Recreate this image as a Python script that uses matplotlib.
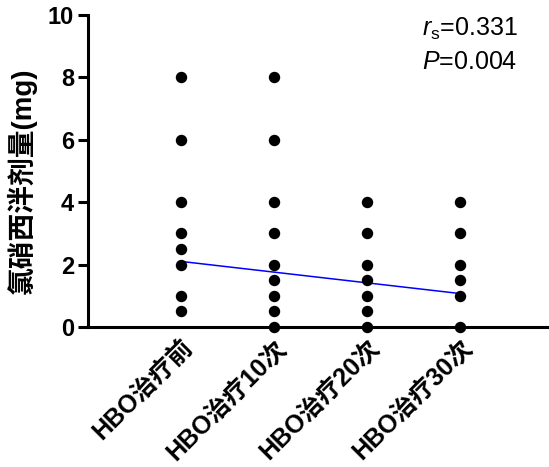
import numpy as np
import matplotlib
matplotlib.use('Agg')
import matplotlib.pyplot as plt

plt.rcParams['font.family'] = ['Liberation Sans', 'Noto Sans CJK SC', 'DejaVu Sans']
plt.rcParams['mathtext.fontset'] = 'custom'
plt.rcParams['mathtext.rm'] = 'Liberation Sans'
plt.rcParams['mathtext.it'] = 'Liberation Sans:italic'

# 数据
categories = ['HBO治疗前', 'HBO治疗10次', 'HBO治疗20次', 'HBO治疗30次']
dose_pre = [8, 6, 4, 3, 2.5, 2, 1, 0.5]
dose_10 = [8, 6, 4, 3, 2, 1.5, 1, 0.5, 0]
dose_20 = [4, 3, 2, 1.5, 1, 0.5, 0]
dose_30 = [4, 3, 2, 1.5, 1, 0]
groups = [dose_pre, dose_10, dose_20, dose_30]
fit_line = [2.1, 1.07]  # 回归线两端 (第1组, 第4组)
yticks = [0, 2, 4, 6, 8, 10]

fig = plt.figure(figsize=(5.49, 4.67), dpi=100)
ax = fig.add_axes([0.160, 0.300, 0.840, 0.668])

for i, g in enumerate(groups):
    ax.scatter([i] * len(g), g, s=52, color='black', zorder=5, clip_on=False)

ax.plot([0, len(categories) - 1], fit_line, color='#0000ff', lw=1.1, zorder=4)

ax.set_xlim(-1, 3.96)
ax.set_ylim(0, 10)
ax.set_yticks(yticks)
ax.set_yticklabels([str(t) for t in yticks], fontsize=17, fontweight='bold')
ax.set_xticks(range(len(categories)))
ax.set_xticklabels(categories, rotation=45, ha='right', va='top',
                   rotation_mode='anchor', fontsize=18, fontweight='bold')
ax.tick_params(axis='x', length=0, pad=6)
ax.tick_params(axis='y', length=7, width=2.2, pad=3)

for s in ['top', 'right']:
    ax.spines[s].set_visible(False)
for s in ['left', 'bottom']:
    ax.spines[s].set_linewidth(2.2)

ax.set_ylabel('氯硝西泮剂量(mg)', fontsize=20, fontweight='bold')
ax.yaxis.set_label_coords(-0.11, 0.468)

ax.text(0.724, 0.955, r'$\mathit{r}_\mathrm{s}$=0.331', transform=ax.transAxes,
        fontsize=18, ha='left', va='center')
ax.text(0.724, 0.85, r'$\mathit{P}$=0.004', transform=ax.transAxes,
        fontsize=18, ha='left', va='center')

fig.savefig('out.png', dpi=100)
